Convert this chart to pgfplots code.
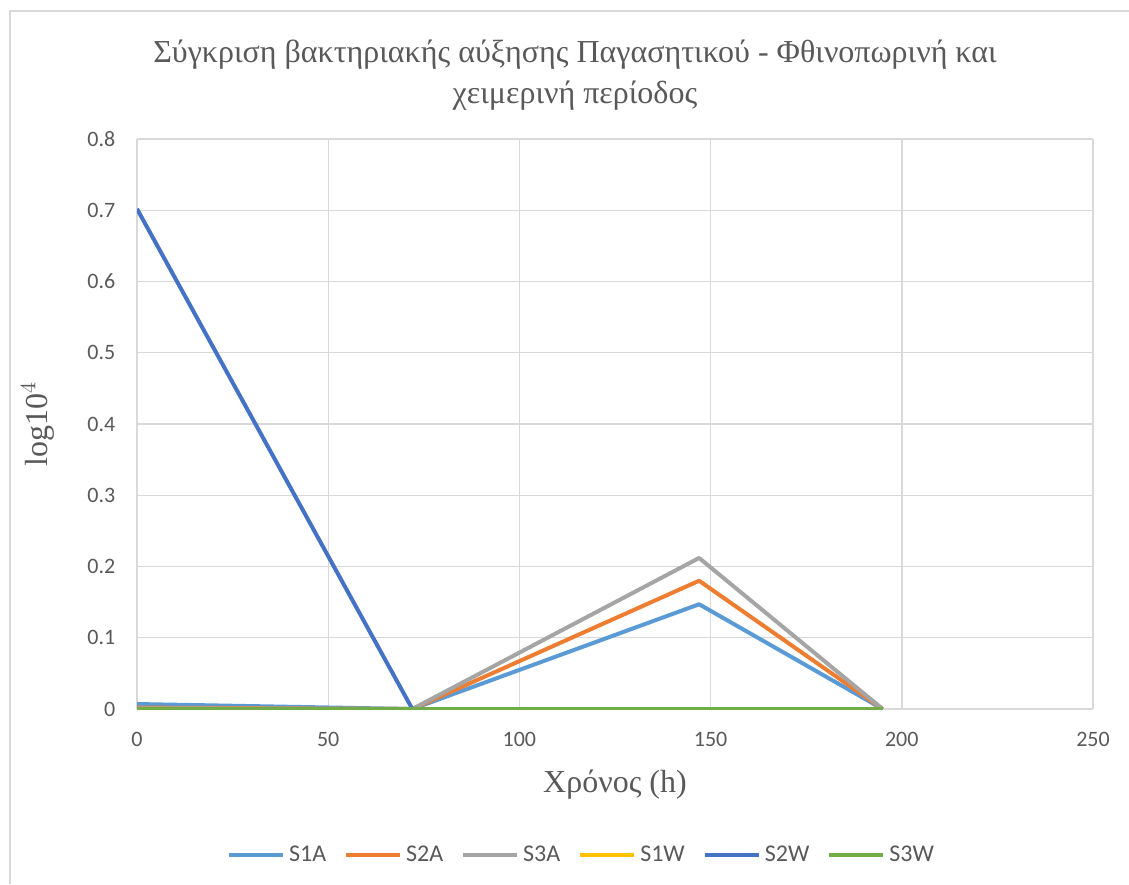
\documentclass[border=0pt]{standalone}
\usepackage{fontspec}
\setmainfont{Liberation Serif}
\newfontfamily\carlito{Carlito}
\usepackage{pgfplots}
\pgfplotsset{compat=1.18}
\definecolor{cS1A}{HTML}{5B9BD5}
\definecolor{cS2A}{HTML}{ED7D31}
\definecolor{cS3A}{HTML}{A5A5A5}
\definecolor{cS1W}{HTML}{FFC000}
\definecolor{cS2W}{HTML}{4472C4}
\definecolor{cS3W}{HTML}{70AD47}
\definecolor{txt}{HTML}{595959}
\definecolor{gridc}{HTML}{D9D9D9}
\begin{document}
\begin{tikzpicture}
\useasboundingbox (0pt,0pt) rectangle (564.5pt,-442pt);
\draw[gridc,line width=0.8pt] (5pt,-442pt) -- (5pt,-5.5pt) -- (564.5pt,-5.5pt);
\node[font=\fontsize{16}{20.5}\selectfont,text=txt,align=center] at (287.5pt,-37.5pt) {Σύγκριση βακτηριακής αύξησης Παγασητικού - Φθινοπωρινή και\\χειμερινή περίοδος};
\begin{axis}[
  at={(68.5pt,-354.5pt)}, anchor=south west,
  scale only axis, width=478pt, height=285pt,
  xmin=0, xmax=250, ymin=0, ymax=0.8,
  xtick={0,50,...,250}, ytick={0,0.1,...,0.8},
  yticklabel style={/pgf/number format/fixed,/pgf/number format/precision=1},
  /pgf/number format/assume math mode=true,
  tick label style={font=\carlito\fontsize{11}{13}\selectfont, text=txt},
  major tick length=0pt,
  xticklabel style={yshift=-8.3pt},
  yticklabel style={xshift=-7.3pt},
  grid=major, major grid style={gridc, line width=0.7pt},
  axis line style={draw=none},
  xlabel={Χρόνος (h)}, ylabel={log10$^4$},
  label style={font=\fontsize{16}{19}\selectfont, text=txt},
  xlabel style={at={(axis description cs:0.5,0)}, anchor=center, yshift=-38pt},
  ylabel style={at={(axis description cs:0,0.5)}, anchor=center, rotate=0, xshift=0pt, yshift=49.5pt},
  legend columns=6,
  legend style={at={(0.466,-0.256)}, anchor=center, draw=none, font=\carlito\fontsize{12}{14}\selectfont, text=txt, /tikz/every even column/.append style={column sep=7pt}},
  legend image code/.code={\draw[#1,line width=2pt] (0pt,0pt) -- (27pt,0pt);},
  every axis plot/.append style={line width=2pt, line join=round},
]
\addplot[cS1A] coordinates {(0,0.007) (72,0) (147,0.147) (195,0)};
\addlegendentry{S1A}
\addplot[cS2A] coordinates {(0,0.002) (72,0) (147,0.180) (195,0)};
\addlegendentry{S2A}
\addplot[cS3A] coordinates {(0,0.001) (72,0) (147,0.212) (195,0)};
\addlegendentry{S3A}
\addplot[cS1W] coordinates {(0,0) (72,0) (147,0) (195,0)};
\addlegendentry{S1W}
\addplot[cS2W] coordinates {(0,0.702) (72,0) (147,0) (195,0)};
\addlegendentry{S2W}
\addplot[cS3W] coordinates {(0,0) (72,0) (147,0) (195,0)};
\addlegendentry{S3W}
\end{axis}
\end{tikzpicture}
\end{document}
